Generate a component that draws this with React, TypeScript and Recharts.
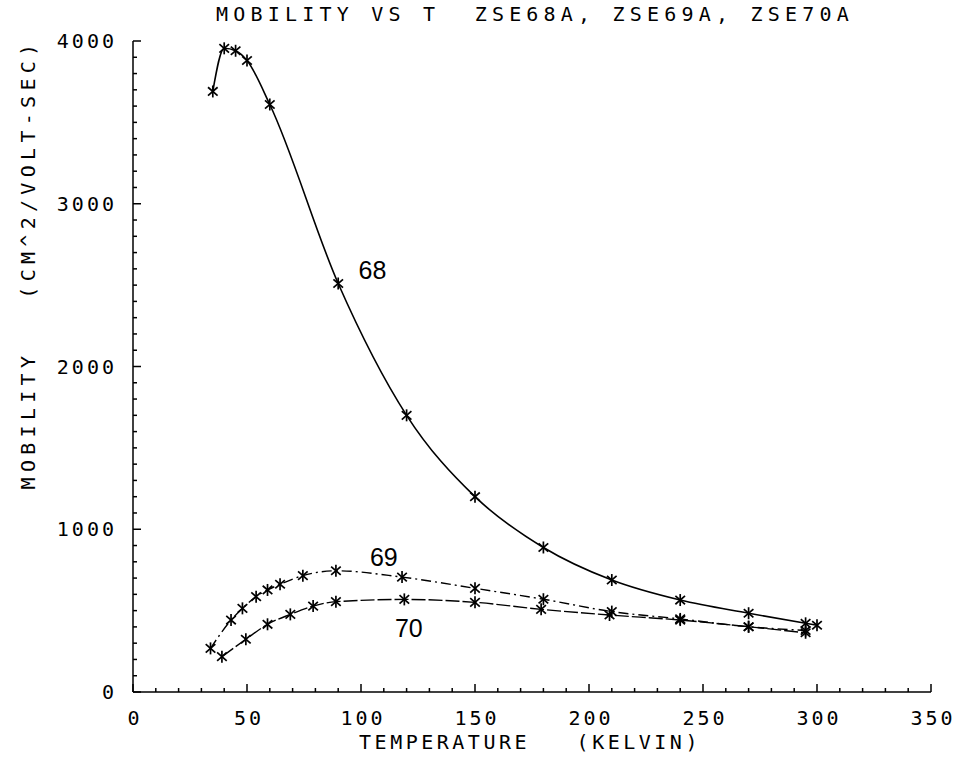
import React from "react";
import {
  LineChart,
  Line,
  XAxis,
  YAxis,
  ReferenceDot,
} from "recharts";

// sample ZSE68A
const temp68 = [35, 40, 45, 50, 60, 90, 120, 150, 180, 210, 240, 270, 295, 300];
const mob68 = [3690, 3955, 3940, 3880, 3610, 2510, 1700, 1200, 888, 688, 565, 484, 422, 410];

// sample ZSE69A
const temp69 = [34, 43, 48, 54, 59, 64.5, 74.5, 89, 118, 150, 180, 210, 240, 270, 295];
const mob69 = [268, 442, 514, 586, 627, 662, 715, 745, 706, 637, 570, 494, 449, 401, 378];

// sample ZSE70A
const temp70 = [39, 49.5, 59, 69, 79, 89, 119, 150, 179, 209, 240, 270, 295];
const mob70 = [217, 324, 416, 477, 528, 555, 569, 551, 508, 473, 442, 401, 364];

const xTicks = [
  0, 10, 20, 30, 40, 50, 60, 70, 80, 90, 100, 110, 120, 130, 140, 150, 160, 170,
  180, 190, 200, 210, 220, 230, 240, 250, 260, 270, 280, 290, 300, 310, 320, 330,
  340, 350,
];
const yTicks = [
  0, 100, 200, 300, 400, 500, 600, 700, 800, 900, 1000, 1100, 1200, 1300, 1400,
  1500, 1600, 1700, 1800, 1900, 2000, 2100, 2200, 2300, 2400, 2500, 2600, 2700,
  2800, 2900, 3000, 3100, 3200, 3300, 3400, 3500, 3600, 3700, 3800, 3900, 4000,
];

const curveNames = ["68", "69", "70"];
const curveLabelT = [105, 110, 121];
const curveLabelM = [2590, 830, 393];

const FONT = "DejaVu Sans Mono";
const INK = "#000";

const toRows = (ts: number[], ms: number[]) =>
  ts.map((t, i) => ({ t, m: ms[i] }));

const data68 = toRows(temp68, mob68);
const data69 = toRows(temp69, mob69);
const data70 = toRows(temp70, mob70);

function Star(props: any) {
  const { cx, cy } = props;
  if (cx == null || cy == null) return null;
  const r = 6;
  return (
    <g stroke={INK} strokeWidth={1.7}>
      <line x1={cx} y1={cy - r} x2={cx} y2={cy + r} />
      <line x1={cx - r * 0.8} y1={cy - r * 0.7} x2={cx + r * 0.8} y2={cy + r * 0.7} />
      <line x1={cx - r * 0.8} y1={cy + r * 0.7} x2={cx + r * 0.8} y2={cy - r * 0.7} />
    </g>
  );
}

function BottomTick({ x, y, payload }: any) {
  const major = payload.value % 50 === 0;
  return (
    <g>
      <line x1={x} y1={y} x2={x} y2={y - (major ? 8 : 4)} stroke={INK} strokeWidth={1.5} />
      {major && (
        <text x={x + 2} y={y + 33} textAnchor="middle" fontFamily={FONT} fontSize={20} letterSpacing={3} fill={INK}>
          {payload.value}
        </text>
      )}
    </g>
  );
}

function TopTick({ x, y, payload }: any) {
  const major = payload.value % 50 === 0;
  return <line x1={x} y1={y} x2={x} y2={y + (major ? 8 : 4)} stroke={INK} strokeWidth={1.5} />;
}

function LeftTick({ x, y, payload }: any) {
  const major = payload.value % 1000 === 0;
  return (
    <g>
      <line x1={x} y1={y} x2={x + (major ? 8 : 4)} y2={y} stroke={INK} strokeWidth={1.5} />
      {major && (
        <text x={x - 16} y={y + 7} textAnchor="end" fontFamily={FONT} fontSize={20} letterSpacing={3} fill={INK}>
          {payload.value}
        </text>
      )}
    </g>
  );
}

function RightTick({ x, y, payload }: any) {
  const major = payload.value % 1000 === 0;
  return <line x1={x} y1={y} x2={x - (major ? 8 : 4)} y2={y} stroke={INK} strokeWidth={1.5} />;
}

export default function App() {
  return (
    <div style={{ position: "absolute", left: 0, top: 0, width: 957, height: 765, background: "#fff" }}>
      <LineChart
        width={957}
        height={765}
        margin={{ top: 41, right: 26, bottom: 0, left: 0 }}
      >
        <XAxis
          xAxisId="b"
          type="number"
          dataKey="t"
          domain={[0, 350]}
          ticks={xTicks}
          interval={0}
          height={73}
          tickSize={0}
          tickMargin={0}
          tickLine={false}
          axisLine={{ stroke: INK, strokeWidth: 1.5 }}
          tick={<BottomTick />}
        />
        <XAxis
          xAxisId="t"
          orientation="top"
          type="number"
          dataKey="t"
          domain={[0, 350]}
          ticks={xTicks}
          interval={0}
          height={0}
          tickSize={0}
          tickMargin={0}
          tickLine={false}
          axisLine={{ stroke: INK, strokeWidth: 1.5 }}
          tick={<TopTick />}
        />
        <YAxis
          yAxisId="l"
          type="number"
          domain={[0, 4000]}
          ticks={yTicks}
          interval={0}
          width={133}
          tickSize={0}
          tickMargin={0}
          tickLine={false}
          axisLine={{ stroke: INK, strokeWidth: 1.5 }}
          tick={<LeftTick />}
        />
        <YAxis
          yAxisId="r"
          orientation="right"
          type="number"
          domain={[0, 4000]}
          ticks={yTicks}
          interval={0}
          width={0}
          tickSize={0}
          tickMargin={0}
          tickLine={false}
          axisLine={{ stroke: INK, strokeWidth: 1.5 }}
          tick={<RightTick />}
        />
        <Line
          xAxisId="b"
          yAxisId="l"
          data={data68}
          dataKey="m"
          type="monotone"
          stroke={INK}
          strokeWidth={1.6}
          dot={<Star />}
          isAnimationActive={false}
        />
        <Line
          xAxisId="b"
          yAxisId="l"
          data={data69}
          dataKey="m"
          type="monotone"
          stroke={INK}
          strokeWidth={1.4}
          strokeDasharray="10 4 2 4"
          dot={<Star />}
          isAnimationActive={false}
        />
        <Line
          xAxisId="b"
          yAxisId="l"
          data={data70}
          dataKey="m"
          type="monotone"
          stroke={INK}
          strokeWidth={1.4}
          strokeDasharray="14 3"
          dot={<Star />}
          isAnimationActive={false}
        />
        {curveNames.map((name, i) => (
          <ReferenceDot
            key={name}
            xAxisId="b"
            yAxisId="l"
            x={curveLabelT[i]}
            y={curveLabelM[i]}
            r={0}
            stroke="none"
            fill="none"
            label={{
              value: name,
              position: "center",
              fontSize: 25,
              fontFamily: "Liberation Sans",
              fill: INK,
            }}
          />
        ))}
      </LineChart>
      <svg
        width={957}
        height={765}
        style={{ position: "absolute", left: 0, top: 0, pointerEvents: "none" }}
      >
        <text x={535} y={21} textAnchor="middle" fontFamily={FONT} fontSize={20} letterSpacing={5.2} fill={INK} style={{ whiteSpace: "pre" }}>
          MOBILITY VS T  ZSE68A, ZSE69A, ZSE70A
        </text>
        <text x={530} y={749} textAnchor="middle" fontFamily={FONT} fontSize={20} letterSpacing={3.5} fill={INK} style={{ whiteSpace: "pre" }}>
          TEMPERATURE   (KELVIN)
        </text>
        <text
          transform="translate(35,264) rotate(-90)"
          textAnchor="middle"
          fontFamily={FONT}
          fontSize={20}
          letterSpacing={5.3}
          fill={INK}
          style={{ whiteSpace: "pre" }}
        >
          MOBILITY   (CM^2/VOLT-SEC)
        </text>
      </svg>
    </div>
  );
}
